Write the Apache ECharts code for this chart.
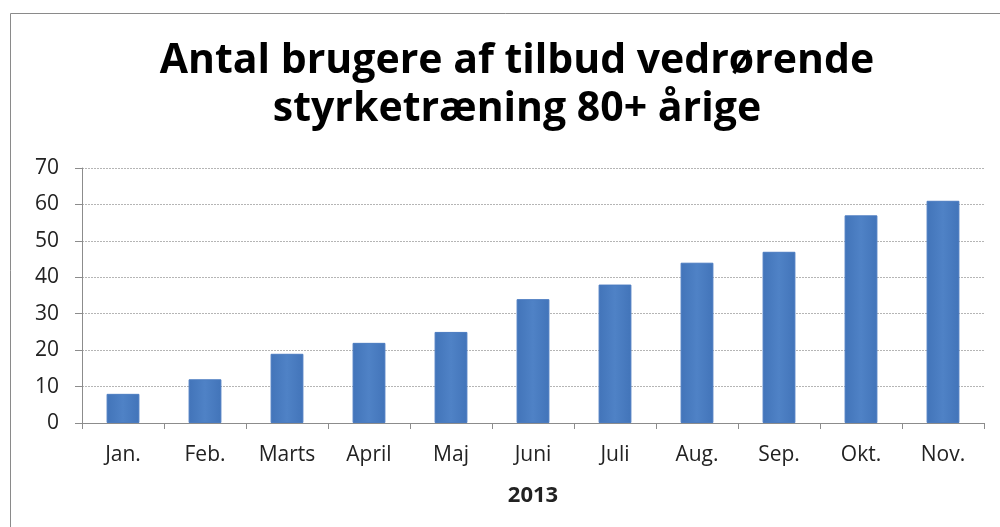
<!DOCTYPE html>
<html>
<head>
<meta charset="utf-8">
<script src="https://cdn.jsdelivr.net/npm/echarts@6/dist/echarts.min.js"></script>
<style>
  html, body { margin: 0; padding: 0; background: #fff; }
  #chart { width: 1000px; height: 527px; }
</style>
</head>
<body>
<div id="chart"></div>
<script>
// months of 2013
const months = ['Jan.', 'Feb.', 'Marts', 'April', 'Maj', 'Juni', 'Juli', 'Aug.', 'Sep.', 'Okt.', 'Nov.'];
const users = [8, 12, 19, 22, 25, 34, 38, 44, 47, 57, 61];
const yTicks = [0, 10, 20, 30, 40, 50, 60, 70];

const labelFont = '"Open Sans", "Liberation Sans", sans-serif';

const chart = echarts.init(document.getElementById('chart'));
chart.setOption({
    backgroundColor: '#fff',
    animation: false,
    title: {
        text: 'Antal brugere af tilbud vedrørende\nstyrketræning 80+ årige',
        left: 512,
        textAlign: 'center',
        top: 32,
        textStyle: {
            fontFamily: labelFont,
            fontWeight: 'bold',
            fontSize: 41,
            lineHeight: 48,
            color: '#000'
        }
    },
    graphic: [{
        type: 'rect',
        shape: { x: 10.5, y: 13.5, width: 1000, height: 600 },
        style: { fill: 'none', stroke: '#8a8a8a', lineWidth: 1 },
        silent: true
    }],
    grid: { left: 82, right: 16, top: 168, bottom: 104 },
    xAxis: {
        type: 'category',
        data: months,
        name: '2013',
        nameLocation: 'middle',
        nameGap: 62,
        nameTextStyle: { fontFamily: labelFont, fontWeight: 'bold', fontSize: 22, color: '#222' },
        axisLine: { lineStyle: { color: '#8c8c8c' } },
        axisTick: { show: true, length: 6, lineStyle: { color: '#8c8c8c' } },
        axisLabel: { fontFamily: labelFont, fontSize: 21, color: '#222', margin: 22 }
    },
    yAxis: {
        type: 'value',
        min: yTicks[0],
        max: yTicks[yTicks.length - 1],
        interval: 10,
        axisLine: { show: true, lineStyle: { color: '#8c8c8c' } },
        axisTick: { show: true, length: 7, lineStyle: { color: '#8c8c8c' } },
        axisLabel: { fontFamily: labelFont, fontSize: 21, color: '#222', margin: 23 },
        splitLine: { lineStyle: { color: '#b5b5b5', type: [2, 1] } }
    },
    series: [{
        type: 'bar',
        data: users,
        barWidth: '40%',
        itemStyle: {
            color: {
                type: 'linear', x: 0, y: 0, x2: 1, y2: 0,
                colorStops: [
                    { offset: 0, color: '#4274b9' },
                    { offset: 0.5, color: '#4f82c6' },
                    { offset: 1, color: '#4274b9' }
                ]
            },
            borderColor: '#4a7bc0',
            borderWidth: 1
        }
    }]
});
</script>
</body>
</html>
